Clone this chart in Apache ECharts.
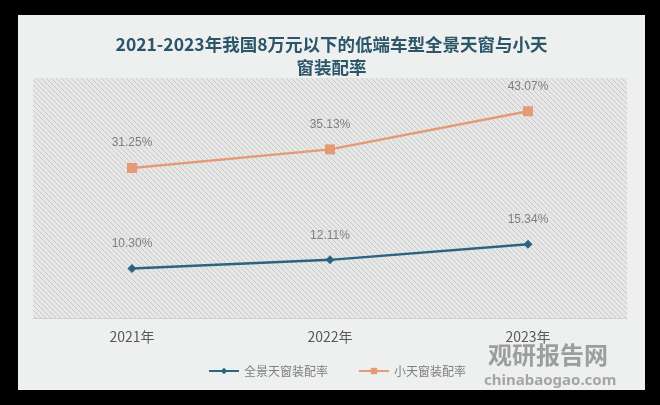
<!DOCTYPE html>
<html>
<head>
<meta charset="utf-8">
<script src="https://cdn.jsdelivr.net/npm/echarts@6/dist/echarts.min.js"></script>
<style>
html,body{margin:0;padding:0;background:#000;}
#panel{position:absolute;left:18px;top:15px;width:627px;height:375px;background:#eef0ef;}
#chart{width:627px;height:375px;}
</style>
</head>
<body>
<div id="panel"><div id="chart"></div></div>
<script>
var years = ["2021年", "2022年", "2023年"];
var panoramic_rate = [10.30, 12.11, 15.34];
var small_rate = [31.25, 35.13, 43.07];

// 斜线底纹
function make_hatch(){
	var c = document.createElement("canvas");
	c.width = 5; c.height = 5;
	var ctx = c.getContext("2d");
	ctx.fillStyle = "#e6e7e6";
	ctx.fillRect(0, 0, 5, 5);
	ctx.strokeStyle = "#c9cbca";
	ctx.lineWidth = 1;
	ctx.beginPath();
	ctx.moveTo(0, 0); ctx.lineTo(5, 5);
	ctx.moveTo(-1, 4); ctx.lineTo(1, 6);
	ctx.moveTo(4, -1); ctx.lineTo(6, 1);
	ctx.stroke();
	return c;
}

var chart = echarts.init(document.getElementById("chart"));
var option = {
	animation: false,
	title: {
		text: "2021-2023年我国8万元以下的低端车型全景天窗与小天\n窗装配率",
		left: "center",
		top: 13,
		textStyle: {
			color: "#2b5568",
			fontSize: 17.5,
			fontWeight: "bold",
			lineHeight: 23,
			fontFamily: "Noto Sans CJK SC"
		}
	},
	legend: {
		bottom: 8,
		left: 185,
		itemWidth: 30,
		itemHeight: 8,
		itemGap: 30,
		textStyle: { color: "#7f7f7f", fontSize: 12, fontFamily: "Noto Sans CJK SC" },
		data: ["全景天窗装配率", "小天窗装配率"]
	},
	grid: {
		left: 15, right: 18, top: 63, bottom: 72,
		show: true,
		borderWidth: 0,
		backgroundColor: { image: make_hatch(), repeat: "repeat" }
	},
	xAxis: {
		type: "category",
		data: years,
		axisLine: { lineStyle: { color: "#d0d0d0" } },
		axisTick: { show: false },
		axisLabel: { color: "#595959", fontSize: 14, margin: 12, fontFamily: "Noto Sans CJK SC" }
	},
	yAxis: {
		type: "value",
		min: 0, max: 50,
		show: false,
		splitLine: { show: false }
	},
	series: [
		{
			name: "全景天窗装配率",
			type: "line",
			data: panoramic_rate,
			symbol: "diamond",
			symbolSize: 9,
			itemStyle: { color: "#2b6381" },
			lineStyle: { color: "#2b6381", width: 2.5 },
			label: { show: true, position: "top", distance: 14, color: "#7f7f7f", fontSize: 12,
				formatter: function(p){ return p.value.toFixed(2) + "%"; } }
		},
		{
			name: "小天窗装配率",
			type: "line",
			data: small_rate,
			symbol: "rect",
			symbolSize: 10,
			itemStyle: { color: "#e59a76" },
			lineStyle: { color: "#e59a76", width: 2.5 },
			label: { show: true, position: "top", distance: 14, color: "#7f7f7f", fontSize: 12,
				formatter: function(p){ return p.value.toFixed(2) + "%"; } }
		}
	],
	graphic: [
		{ type: "text", left: 470, top: 328, style: { text: "观研报告网", fill: "rgba(90,90,90,0.55)", font: "bold 24px 'Noto Sans CJK SC'" } },
		{ type: "text", left: 466, top: 358, style: { text: "chinabaogao.com", fill: "rgba(90,90,90,0.5)", font: "bold 15px 'Noto Sans'" } }
	]
};
chart.setOption(option, true);
</script>
</body>
</html>
